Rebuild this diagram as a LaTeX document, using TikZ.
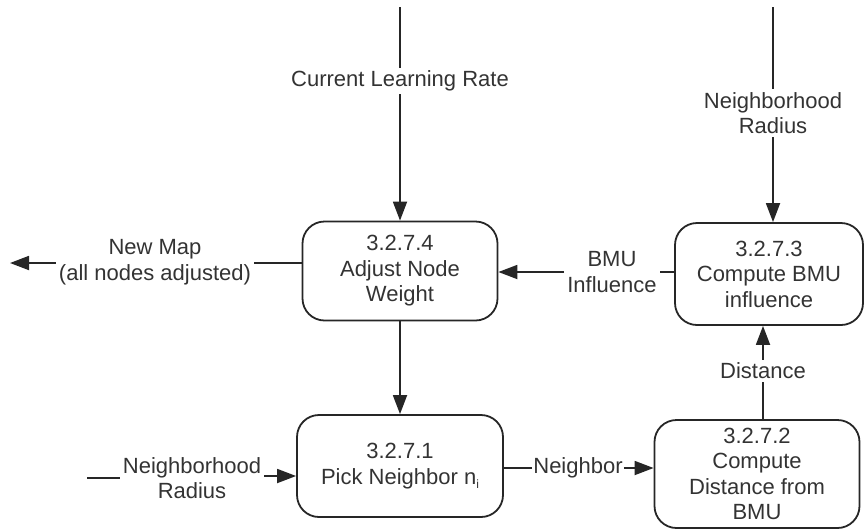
\documentclass[tikz,border=0pt]{standalone}
\usepackage{fontspec}
\setmainfont{Liberation Sans}
\usetikzlibrary{arrows.meta}
\definecolor{ink}{HTML}{262626}
\definecolor{txt}{HTML}{333333}
\begin{document}
\begin{tikzpicture}[x=1pt,y=-1pt,
  every node/.style={font=\fontsize{22}{25.5}\selectfont, text=txt},
  proc/.style={draw=ink, line width=1.8pt, rounded corners=22pt, align=center, inner sep=0pt},
  lbl/.style={align=center, inner sep=3pt},
  flow/.style={draw=ink, line width=1.8pt},
  tip/.style={-{Triangle[length=19pt,width=14pt]}}]
\useasboundingbox (0,0) rectangle (864,531);

% processes
\node[proc, minimum width=195pt, minimum height=99pt] (b4) at (400,271) {3.2.7.4\\Adjust Node\\Weight};
\node[proc, minimum width=188pt, minimum height=102pt] (b3) at (769,274) {3.2.7.3\\Compute BMU\\influence};
\node[proc, minimum width=206pt, minimum height=102pt] (b1) at (400,466) {3.2.7.1\\Pick Neighbor n\raisebox{-0.35ex}{\fontsize{12}{12}\selectfont i}};
\node[proc, minimum width=205pt, minimum height=108pt] (b2) at (757,474) {3.2.7.2\\Compute\\Distance from\\BMU};

% flow labels
\node[lbl] (lr) at (400,81) {Current Learning Rate};
\node[lbl] (nrt) at (773,113) {Neighborhood\\Radius};
\node[lbl] (bmu) at (612,272) {BMU\\Influence};
\node[lbl] (nm) at (155,262) {New Map\\(all nodes adjusted)};
\node[lbl] (nrl) at (192,478) {Neighborhood\\Radius};
\node[lbl, inner sep=1pt] (nb) at (578,468) {Neighbor};
\node[lbl] (dst) at (763,371) {Distance};

% free ends
\coordinate (lrtop) at (400,7);
\coordinate (nrtop) at (773,7);
\coordinate (out) at (10,263);
\coordinate (nrin) at (87,478);

% flows
\draw[flow] (lrtop) -- (lr.north);
\draw[flow, tip] (lr.south) -- (b4.north);
\draw[flow] (nrtop) -- (nrt.north);
\draw[flow, tip] (nrt.south) -- (nrt.south |- b3.north);
\draw[flow] (b3.west |- bmu) -- (bmu.east);
\draw[flow, tip] (bmu.west) -- (b4.east |- bmu);
\draw[flow] (b4.west |- out) -- (nm.east |- out);
\draw[flow, tip] (nm.west |- out) -- (out);
\draw[flow, tip] (b4.south) -- (b1.north);
\draw[flow] (nrin) -- (nrl.west |- nrin);
\draw[flow, tip] ([yshift=2pt]nrl.east |- nrin) -- ([yshift=2pt]b1.west |- nrin);
\draw[flow] (b1.east |- nb) -- (nb.west);
\draw[flow, tip] (nb.east) -- (b2.west |- nb);
\draw[flow] (dst.south |- b2.north) -- (dst.south);
\draw[flow, tip] (dst.north) -- (dst.north |- b3.south);
\end{tikzpicture}
\end{document}
